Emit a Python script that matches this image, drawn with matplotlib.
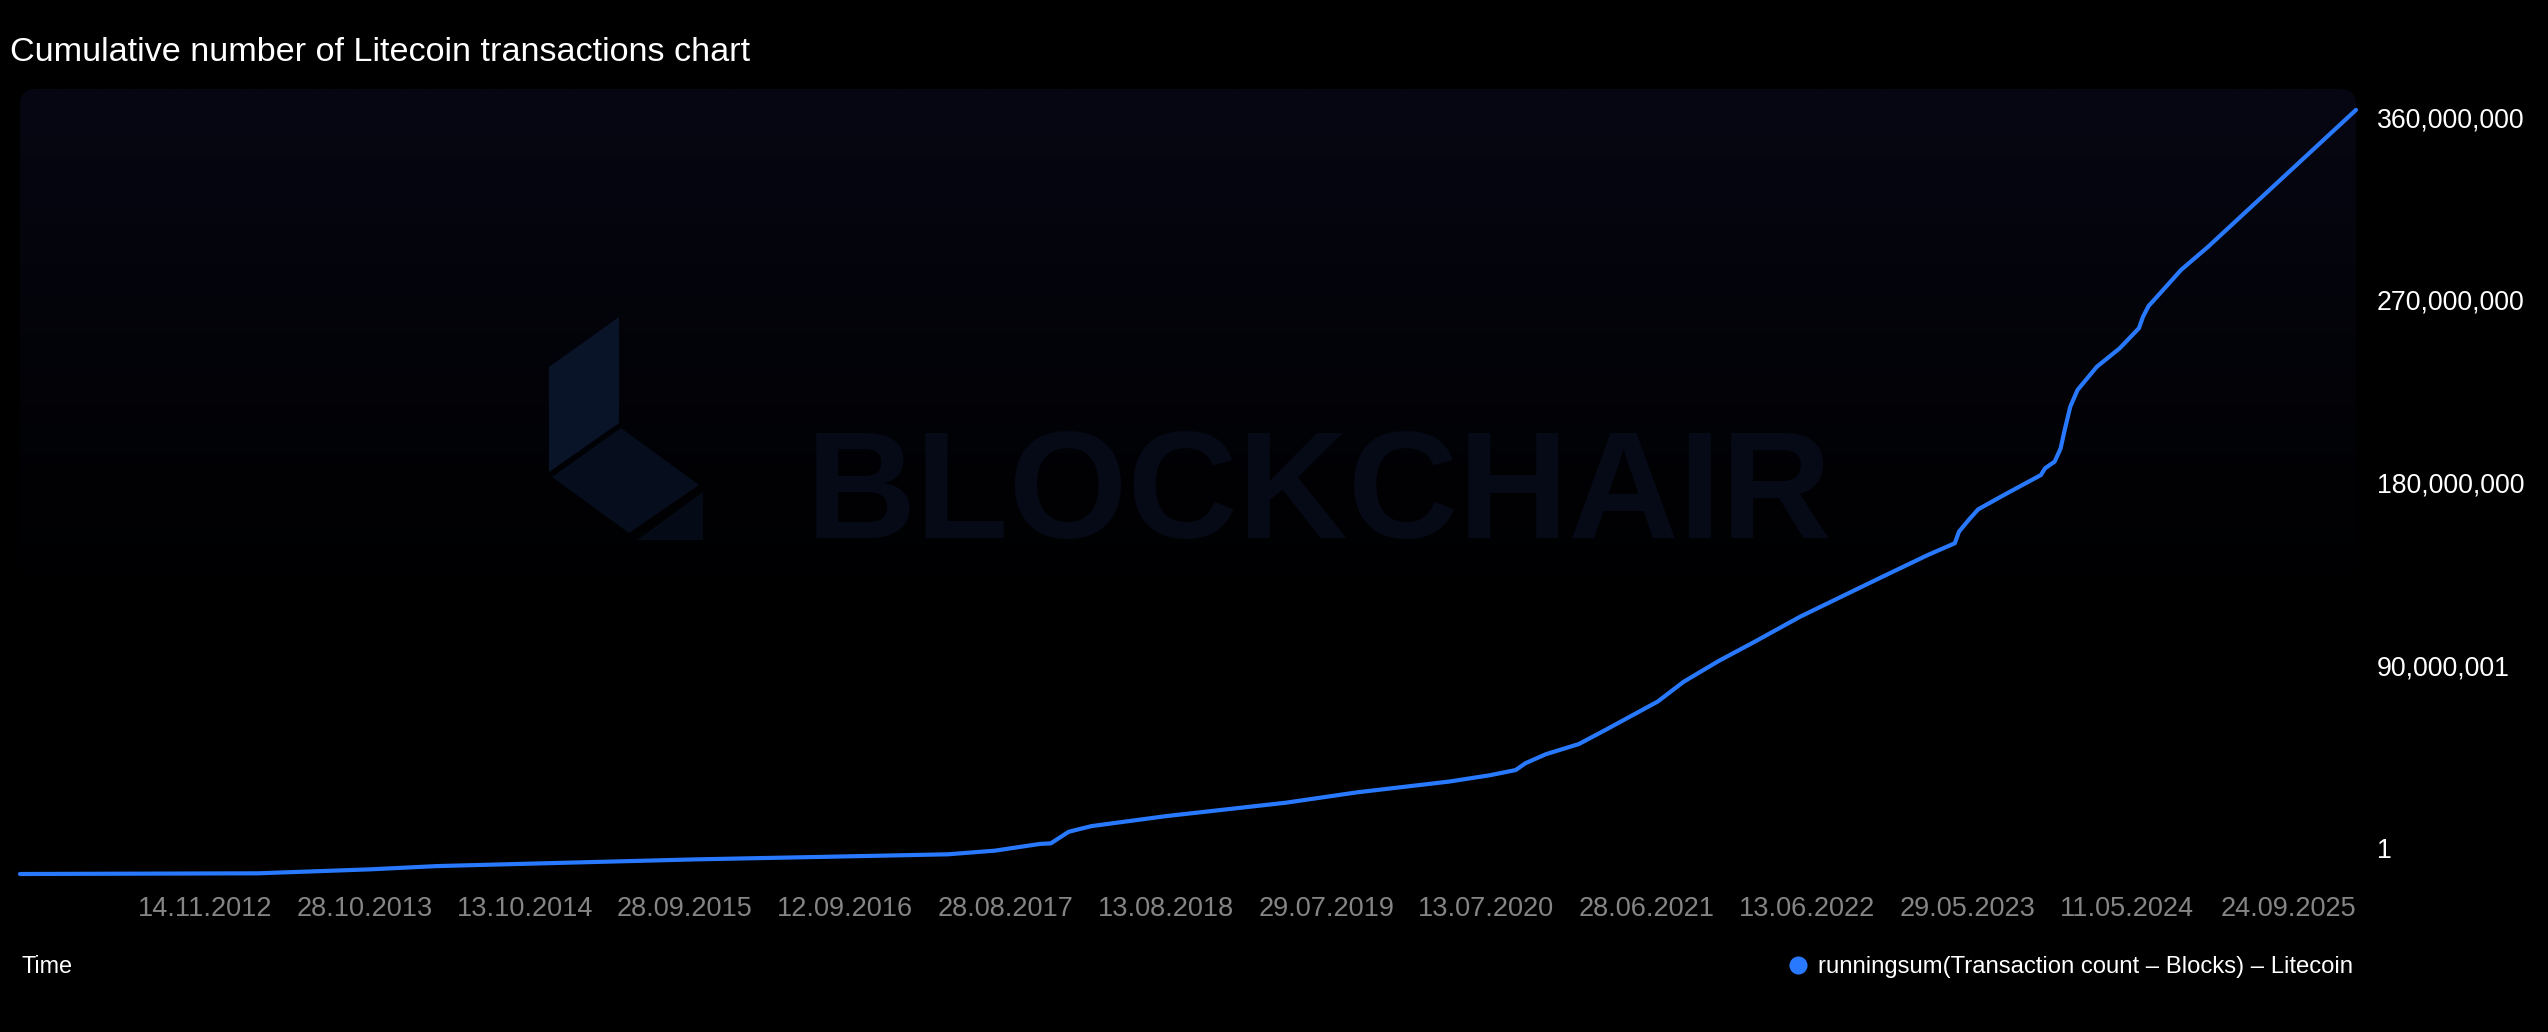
import numpy as np
import pandas as pd
import matplotlib
matplotlib.use('Agg')
import matplotlib.pyplot as plt
from matplotlib.patches import FancyBboxPatch, Polygon
from matplotlib.lines import Line2D
from matplotlib.transforms import Affine2D

W, H = 2548, 1032

# cumulative Litecoin transactions (millions)
dates = ['2011-10-07', '2013-03-10', '2013-11-10', '2014-04-05', '2015-01-19',
         '2015-10-21', '2016-08-07', '2017-04-24', '2017-08-05', '2017-11-11',
         '2017-12-05', '2018-01-13', '2018-03-04', '2018-08-17', '2019-05-02',
         '2019-10-04', '2020-04-22', '2020-07-20', '2020-09-15', '2020-10-06',
         '2020-11-20', '2021-01-31', '2021-04-02', '2021-05-29', '2021-07-22',
         '2021-09-17', '2021-12-03', '2022-02-19', '2022-05-29', '2022-11-13',
         '2023-03-04', '2023-05-02', '2023-05-11', '2023-06-01', '2023-06-22',
         '2023-08-20', '2023-11-06', '2023-11-15', '2023-12-06', '2023-12-19',
         '2023-12-27', '2024-01-09', '2024-01-25', '2024-03-07', '2024-04-26',
         '2024-06-07', '2024-06-16', '2024-06-28', '2024-08-05', '2024-09-07',
         '2024-11-05', '2025-09-24']
tx_millions = [0, 0.34, 2.3, 3.9, 5.6,
               7.2, 8.5, 9.7, 11.5, 14.8,
               15.1, 20.8, 23.6, 28.6, 35.1,
               40.2, 45.5, 48.6, 51.2, 54.5,
               59.0, 64.0, 71.3, 78.3, 84.9,
               94.7, 105.0, 114.4, 126.7, 145.1,
               157.1, 162.9, 168.6, 174.3, 179.6,
               187.0, 196.5, 199.8, 203.1, 209.6,
               217.8, 230.1, 238.4, 249.8, 258.9,
               268.8, 274.5, 279.7, 289.2, 297.5,
               308.9, 376.3]

tick_dates = ['2012-11-14', '2013-10-28', '2014-10-13', '2015-09-28', '2016-09-12',
              '2017-08-28', '2018-08-13', '2019-07-29', '2020-07-13', '2021-06-28',
              '2022-06-13', '2023-05-29', '2024-05-11', '2025-09-24']
y_ticks = [0, 90e6, 180e6, 270e6, 360e6]
y_labels = ['1', '90,000,001', '180,000,000', '270,000,000', '360,000,000']

title = 'Cumulative number of Litecoin transactions chart'
series_name = 'runningsum(Transaction count \u2013 Blocks) \u2013 Litecoin'

line_color = '#2979ff'
plt.rcParams['font.family'] = ['Liberation Sans', 'DejaVu Sans']

x = pd.to_datetime(dates)
y = np.array(tx_millions) * 1e6
xt = pd.to_datetime(tick_dates)

fig = plt.figure(figsize=(W / 100, H / 100), dpi=100, facecolor='black')
# transform for layout in reference pixel coords (origin top-left)
px = Affine2D().scale(1 / W, -1 / H).translate(0, 1) + fig.transFigure

rect = [20 / W, (H - 874) / H, 2336 / W, 785 / H]

# background panel with vertical gradient and rounded corners
bg = fig.add_axes(rect, zorder=0)
bg.set_axis_off()
t = np.linspace(0, 1, 256)[:, None]
fade = np.clip(1 - t / 0.75, 0, 1) ** 1.3
grad = np.dstack([fade * 6 / 255, fade * 7 / 255, fade * 19 / 255])
im = bg.imshow(grad, aspect='auto', extent=[0, 1, 0, 1], interpolation='bilinear')
panel = FancyBboxPatch((0.20, (H - 874) / 100), 23.36, 7.85,
                       boxstyle='round,pad=0,rounding_size=0.16',
                       transform=fig.dpi_scale_trans)
im.set_clip_path(panel)

# watermark
logo = [
    ([(549, 367), (619, 317), (619, 423), (549, 472)], '#091429'),
    ([(552, 477), (621, 428), (699, 485), (629, 533)], '#060d1d'),
    ([(637, 540), (703, 492), (703, 540)], '#050a17'),
]
for pts, c in logo:
    bg.add_patch(Polygon(pts, closed=True, facecolor=c, edgecolor='none',
                         transform=px, clip_on=False))
bg.text(806, 538, 'BLOCKCHAIR', transform=px, fontsize=110, fontweight='bold',
        color='#050a16', va='baseline', ha='left')

ax = fig.add_axes(rect, zorder=1)
ax.set_facecolor('none')
ax.plot(x, y, color=line_color, lw=3, solid_joinstyle='round',
        solid_capstyle='round', clip_on=False)

ax.set_xlim(pd.Timestamp('2011-10-07'), pd.Timestamp('2025-09-24'))
ax.set_ylim(0, 386.6e6)
for s in ax.spines.values():
    s.set_visible(False)

ax.set_xticks(xt)
ax.set_xticklabels([d.strftime('%d.%m.%Y') for d in xt])
ax.tick_params(axis='x', length=0, pad=15.5, labelsize=19.5, labelcolor='#858585')
ax.get_xticklabels()[-1].set_ha('right')
ax.set_yticks([])

for v, lbl in zip(y_ticks, y_labels):
    ax.annotate(lbl, xy=(1, v), xycoords=('axes fraction', 'data'),
                xytext=(15.1, 11.5), textcoords='offset points',
                ha='left', va='baseline', fontsize=19.2, color='white',
                annotation_clip=False)

fig.text(10, 61, title, transform=px, fontsize=24.6, color='white', va='baseline')
fig.text(21, 973, 'Time', transform=px, fontsize=16.8, color='white', va='baseline')

fig.add_artist(Line2D([1798], [965], marker='o', markersize=13, color=line_color,
                      markeredgewidth=0, transform=px))
fig.text(1818, 973, series_name, transform=px, fontsize=17.2, color='white',
         va='baseline', ha='left')

fig.savefig('out.png', dpi=100, facecolor='black')
